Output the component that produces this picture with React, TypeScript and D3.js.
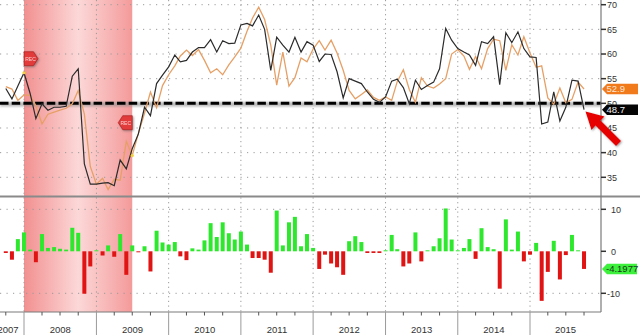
import React from "react";
import * as d3 from "d3";

// ---- data (monthly, Oct 2007 .. Oct 2015) ----
const startMonth = new Date(2007, 9, 1);
const endMonthExclusive = new Date(2015, 10, 1);

const actual = [
  53.0, 50.9, 53.5, 56.2, 52.0, 46.9, 49.9, 48.6, 49.2, 49.2, 49.4, 55.5, 57.0,
  37.7, 33.6, 33.6, 33.8, 33.9, 33.3, 38.5, 36.7, 40.8, 43.8, 49.2, 47.5,
  54.0, 55.7, 57.4, 59.8, 58.4, 58.7, 60.4, 61.3, 61.3, 62.9, 60.4, 62.7,
  62.1, 62.2, 65.9, 66.2, 65.7, 67.9, 65.0, 56.7, 63.4, 61.8, 60.4, 63.4,
  60.4, 62.5, 61.8, 58.5, 60.0, 59.9, 56.4, 51.1, 55.0, 54.5, 54.0, 52.3,
  50.8, 50.2, 51.3, 54.5, 54.9, 53.2, 49.9, 54.7, 52.8, 53.6, 54.3, 57.0,
  65.2, 62.8, 61.1, 60.4, 59.8, 57.7, 62.5, 62.1, 63.5, 53.8, 64.3, 62.3,
  64.5, 61.1, 59.4, 59.3, 45.8, 46.2, 52.3, 46.4, 49.2, 54.7, 54.5, 48.7,
];

const consensus = [
  53.4, 52.9, 50.6, 51.7, 51.6, 49.5, 45.8, 47.8, 48.2, 48.6, 49.0, 49.9, 52.6,
  47.8, 37.2, 33.6, 34.8, 32.5, 34.6, 34.4, 42.3, 39.4, 43.9, 48.0, 52.3,
  49.1, 53.6, 55.8, 57.6, 59.6, 60.8, 59.7, 60.9, 58.7, 56.2, 57.0, 55.8,
  57.8, 59.4, 61.2, 64.6, 67.3, 69.5, 67.0, 61.8, 53.7, 60.4, 53.5, 55.2,
  59.2, 58.4, 61.0, 62.7, 60.8, 62.8, 60.2, 56.7, 52.6, 50.9, 51.8, 52.7,
  51.2, 50.6, 51.3, 50.6, 54.4, 56.8, 52.8, 50.2, 55.2, 53.5, 53.1, 53.9,
  55.0, 60.0, 60.9, 59.6, 56.9, 59.5, 57.0, 61.1, 63.0, 62.7, 56.7, 61.9,
  59.8, 63.5, 60.2, 57.3, 57.6, 51.1, 49.8, 53.1, 50.1, 50.8, 54.3, 52.9,
];

const surprise = [
  -0.4, -2.0, 2.9, 4.5, 0.4, -2.6, 4.1, 0.8, 1.0, 0.6, 0.4, 5.6, 4.4,
  -10.1, -3.6, 0.05, -1.0, 1.4, -1.3, 4.1, -5.6, 1.4, -0.1, 1.2, -4.8,
  4.9, 2.1, 1.6, 2.2, -1.2, -2.1, 0.7, 0.4, 2.6, 6.7, 3.4, 6.9,
  4.3, 2.8, 4.7, 1.6, -1.6, -1.6, -2.0, -5.1, 9.7, 1.4, 6.9, 8.2,
  1.2, 4.1, 0.8, -4.2, -0.8, -2.9, -3.8, -5.6, 2.4, 3.6, 2.2, -0.4,
  -0.4, -0.4, 0.05, 3.9, 0.5, -3.6, -2.9, 4.5, -2.4, 0.1, 1.2, 3.1,
  10.2, 2.8, 0.2, 0.8, 2.9, -1.8, 5.5, 1.0, 0.5, -8.9, 7.6, 0.4,
  4.7, -2.4, -0.8, 2.0, -11.8, -4.9, 2.5, -6.7, -0.9, 3.9, 0.2, -4.1977,
];

const yearLabels = ["2007", "2008", "2009", "2010", "2011", "2012", "2013", "2014", "2015"];
const topTicks = [35, 40, 45, 50, 55, 60, 65, 70];
const topGrid = [35, 40, 45, 55, 60, 65, 70];
const bottomTicks = [-10, 0, 10];
const bottomGrid = [-10, 10];
const threshold = 50;
const recessionStart = new Date(2008, 0, 1);
const recessionEnd = new Date(2009, 6, 1);
const lastActualLabel = "48.7";
const lastConsensusLabel = "52.9";
const lastSurpriseLabel = "-4.1977";

const W = 640;
const H = 335;

export default function App() {
  const dates = d3.timeMonth.range(startMonth, endMonthExclusive);
  const plotLeft = -8;
  const plotRight = 601;

  const x = d3
    .scaleTime()
    .domain([new Date(2008, 0, 1), new Date(2015, 0, 1)])
    .range([24, 530]);
  const yTop = d3.scaleLinear().domain([35, 70]).range([177.3, 4.7]);
  const yBot = d3.scaleLinear().domain([-10, 10]).range([293.3, 209.3]);

  const line = (vals: number[]) =>
    d3
      .line<number>()
      .x((_, i) => x(dates[i]))
      .y((d) => yTop(d))(vals) || "";

  const years = yearLabels.map((y) => {
    const yr = +y;
    const s = x(new Date(yr, 0, 1));
    const e = x(new Date(yr + 1, 0, 1));
    const cs = Math.max(s, plotLeft);
    const ce = Math.min(e, plotRight);
    return { label: y, start: s, center: (cs + ce) / 2 };
  });

  const quarters = d3
    .timeMonth.range(new Date(2007, 9, 1), new Date(2016, 0, 1), 3)
    .filter((d) => d.getMonth() !== 0);

  const recX0 = x(recessionStart);
  const recX1 = x(recessionEnd);

  const tag = (x0: number, cy: number, x1: number, h: number) =>
    `M${x0},${cy} L${x0 + 5},${cy - h / 2} L${x1},${cy - h / 2} L${x1},${cy + h / 2} L${x0 + 5},${cy + h / 2} Z`;

  const barW = 4;
  const font = "'Liberation Sans', Arial, sans-serif";

  const lastIdx = actual.length - 1;
  const firstFlagY = 58.7;
  const secondFlagY = 122.7;
  const yThr = yTop(threshold);

  return (
    <svg
      width={W}
      height={H}
      viewBox={`0 0 ${W} ${H}`}
      style={{ position: "absolute", left: 0, top: 0, background: "#fff" }}
      fontFamily={font}
    >
      <defs>
        <linearGradient id="rec" x1="0" x2="1" y1="0" y2="0">
          <stop offset="0" stopColor="#f29090" />
          <stop offset="0.5" stopColor="#fcd8d8" />
          <stop offset="1" stopColor="#f49a9a" />
        </linearGradient>
        <filter id="blur" filterUnits="userSpaceOnUse" x="-10" y="90" width="630" height="30">
          <feGaussianBlur stdDeviation="1.2" />
        </filter>
        <filter id="sh2" x="-50%" y="-50%" width="200%" height="200%">
          <feDropShadow dx="1" dy="1" stdDeviation="1" floodColor="#555" floodOpacity="0.6" />
        </filter>
      </defs>

      {/* recession shade */}
      <rect x={recX0} y={0} width={recX1 - recX0} height={312} fill="url(#rec)" />

      {/* horizontal grids */}
      {topGrid.map((v) => (
        <line key={"tg" + v} x1={0} x2={plotRight} y1={yTop(v)} y2={yTop(v)} stroke="#9a9a9a" strokeWidth={1} strokeDasharray="1.2 5.3" />
      ))}
      {bottomGrid.map((v) => (
        <line key={"bg" + v} x1={0} x2={plotRight} y1={yBot(v)} y2={yBot(v)} stroke="#9a9a9a" strokeWidth={1} strokeDasharray="1.2 5.3" />
      ))}
      {/* vertical year grids */}
      {years.slice(1).map((y) => (
        <line key={"vg" + y.label} x1={y.start} x2={y.start} y1={0} y2={312} stroke="#9a9a9a" strokeWidth={1} strokeDasharray="1.2 3.5" />
      ))}

      {/* threshold dashed with soft shadow */}
      <line x1={0} x2={plotRight} y1={yThr + 0.8} y2={yThr + 0.8} stroke="#8a8a8a" strokeWidth={4.5} strokeOpacity={0.6} filter="url(#blur)" />
      <line x1={0} x2={plotRight} y1={yThr} y2={yThr} stroke="#000" strokeWidth={3} strokeDasharray="8.5 3.2" />

      {/* lines */}
      <path d={line(consensus)} fill="none" stroke="#e6a066" strokeWidth={1.3} />
      <path d={line(actual)} fill="none" stroke="#2b2b2b" strokeWidth={1.2} />

      {/* small markers */}
      <circle cx={x(dates[3])} cy={yTop(actual[3])} r={1.6} fill="#f4d23a" />
      <circle cx={x(dates[21])} cy={yTop(consensus[21])} r={1.6} fill="#f4d23a" />

      {/* REC flags */}
      <g filter="url(#sh2)">
        <path d={`M${recX0},${firstFlagY - 7} L${recX0 + 9.5},${firstFlagY - 7} L${recX0 + 14},${firstFlagY} L${recX0 + 9.5},${firstFlagY + 7} L${recX0},${firstFlagY + 7} Z`} fill="#e23b3b" stroke="#a51616" strokeWidth={0.6} />
        <text x={recX0 + 6.5} y={firstFlagY + 1.8} fontSize={5} fill="#fbd0d0" textAnchor="middle">REC</text>
        <path d={`M${recX1},${secondFlagY - 7} L${recX1 - 9.5},${secondFlagY - 7} L${recX1 - 14},${secondFlagY} L${recX1 - 9.5},${secondFlagY + 7} L${recX1},${secondFlagY + 7} Z`} fill="#e23b3b" stroke="#a51616" strokeWidth={0.6} />
        <text x={recX1 - 6.5} y={secondFlagY + 1.8} fontSize={5} fill="#fbd0d0" textAnchor="middle">REC</text>
      </g>

      {/* separator */}
      <line x1={0} x2={W} y1={196.5} y2={196.5} stroke="#8a8a8a" strokeWidth={2} />

      {/* bars */}
      {surprise.map((v, i) => {
        const cx = x(dates[i]);
        const y0 = yBot(0);
        const y1 = yBot(v);
        const h = Math.max(Math.abs(y1 - y0), 1);
        return (
          <rect
            key={"b" + i}
            x={cx - barW / 2}
            y={v >= 0 ? y0 - h : y0}
            width={barW}
            height={h}
            fill={v >= 0 ? "#2ee82e" : "#e11414"}
          />
        );
      })}

      {/* axes */}
      <line x1={plotRight} x2={plotRight} y1={0} y2={312} stroke="#7a7a7a" strokeWidth={1.2} />
      <line x1={0} x2={plotRight} y1={312} y2={312} stroke="#7a7a7a" strokeWidth={1.2} />
      {quarters.map((d, i) => (
        <line key={"q" + i} x1={x(d)} x2={x(d)} y1={312} y2={315.5} stroke="#555" strokeWidth={1} />
      ))}
      {years.slice(1).map((y) => (
        <line key={"yl" + y.label} x1={y.start} x2={y.start} y1={312} y2={335} stroke="#9a9a9a" strokeWidth={1} />
      ))}
      {years.map((y) => (
        <text key={"yt" + y.label} x={y.center} y={333} fontSize={9.5} fill="#333" textAnchor="middle">
          {y.label}
        </text>
      ))}

      {/* right ticks */}
      {topTicks.map((v) => (
        <g key={"tt" + v}>
          <line x1={plotRight} x2={plotRight + 5} y1={yTop(v)} y2={yTop(v)} stroke="#333" strokeWidth={1.5} />
          <text x={plotRight + 6} y={yTop(v) + 3.3} fontSize={9} fill="#333">{v}</text>
        </g>
      ))}
      {bottomTicks.map((v) => (
        <g key={"bt" + v}>
          <line x1={plotRight} x2={plotRight + 5} y1={yBot(v)} y2={yBot(v)} stroke="#333" strokeWidth={1.5} />
          <text x={plotRight + (v < 0 ? 6 : 10)} y={yBot(v) + 3.3} fontSize={9} fill="#333">{v < 0 ? "-" + Math.abs(v) : v}</text>
        </g>
      ))}

      {/* value tags */}
      <path d={tag(plotRight + 1, yTop(consensus[lastIdx]), 638, 10.5)} fill="#f07a1c" />
      <text x={606.5} y={yTop(consensus[lastIdx]) + 3.4} fontSize={9.5} fill="#fde6d2">{lastConsensusLabel}</text>
      <path d={tag(plotRight + 1, yTop(actual[lastIdx]), 638, 10.5)} fill="#050505" />
      <text x={606.5} y={yTop(actual[lastIdx]) + 3.4} fontSize={9.5} fill="#f2f2f2">{lastActualLabel}</text>
      <path d={tag(plotRight + 1, yBot(surprise[lastIdx]), 637, 10.5)} fill="#3cf03c" />
      <text x={606} y={yBot(surprise[lastIdx]) + 3.4} fontSize={9.5} fill="#1a3a1a">{lastSurpriseLabel}</text>

      {/* red arrow annotation */}
      <g filter="url(#sh2)">
        <path d="M585.5,111.5 L604.5,116.5 L600.5,120.5 L621,141 L616,146 L595.5,125.5 L591.5,130 Z" fill="#e60000" />
      </g>
    </svg>
  );
}
